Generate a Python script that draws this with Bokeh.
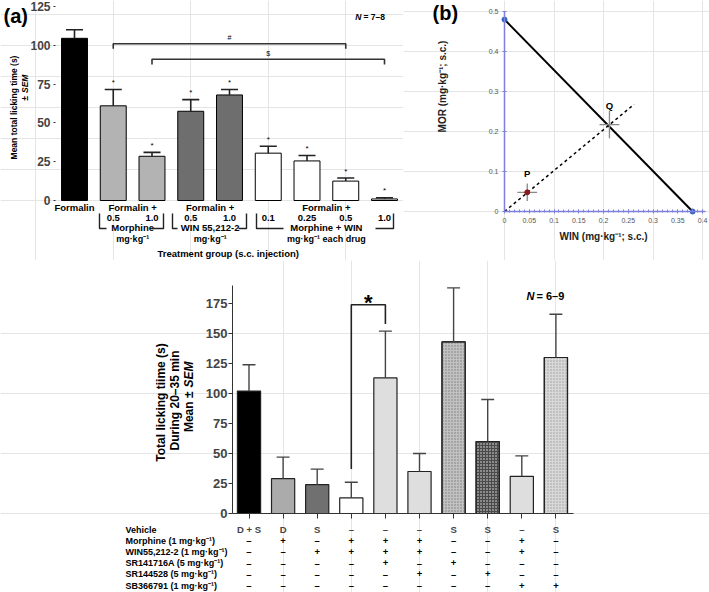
import math
from bokeh.plotting import figure
from bokeh.models import Range1d, FixedTicker, CustomJSTickFormatter, LinearAxis
from bokeh.layouts import column, row
from bokeh.core.properties import value
from bokeh.embed import file_html
from bokeh.resources import INLINE

FONT = "Liberation Sans"

# ---------------- data: panel (a) ----------------
a_doses = ["", "0.5", "1.0", "0.5", "1.0", "0.1", "0.25", "0.5", "1.0"]
a_groups = ["Formalin", "Morphine", "Morphine", "WIN 55,212-2", "WIN 55,212-2",
            "Morphine + WIN", "Morphine + WIN", "Morphine + WIN", "Morphine + WIN"]
a_means = [104.5, 61, 28.5, 57.5, 68, 30.5, 25.5, 12.5, 1.0]
a_sem = [5.5, 10.5, 2.5, 7.5, 3.5, 4.5, 3.5, 2.0, 0.8]
a_sig = ["", "*", "*", "*", "*", "*", "*", "*", "*"]
a_yticks = [0, 25, 50, 75, 100, 125]
a_comp_text = ["#", "$"]
a_comp_from = [2, 3]
a_comp_to = [8, 9]
a_comp_level = [101, 91]
a_units = ["mg·kg⁻¹", "mg·kg⁻¹", "mg·kg⁻¹ each drug"]

# ---------------- data: panel (b) ----------------
b_iso_win = [0.0, 0.38]
b_iso_mor = [0.48, 0.0]
b_pt_names = ["P", "Q"]
b_pt_win = [0.046, 0.212]
b_pt_mor = [0.048, 0.217]
b_pt_win_err = [0.020, 0.020]
b_pt_mor_err = [0.022, 0.034]
b_add_win = [0.0, 0.262]
b_add_mor = [0.0, 0.268]
b_xticks = [0, 0.05, 0.1, 0.15, 0.2, 0.25, 0.3, 0.35, 0.4]
b_xminor = [i / 100 for i in range(0, 41)]
b_yticks = [0, 0.1, 0.2, 0.3, 0.4, 0.5]

# ---------------- data: panel (c) ----------------
c_means = [102, 29, 24, 13, 113, 35, 143, 60, 31, 130]
c_sem = [22, 18, 13, 13, 39, 15, 45, 35, 17, 36]
c_yticks = [0, 25, 50, 75, 100, 125, 150, 175]
c_rows = ["Vehicle", "Morphine (1 mg·kg⁻¹)", "WIN55,212-2 (1 mg·kg⁻¹)",
          "SR141716A (5 mg·kg⁻¹)", "SR144528 (5 mg·kg⁻¹)", "SB366791 (1 mg·kg⁻¹)"]
c_table = [
    ["D + S", "D", "S", "–", "–", "–", "S", "S", "–", "S"],
    ["–", "+", "–", "+", "+", "+", "–", "–", "+", "–"],
    ["–", "–", "+", "+", "+", "+", "–", "–", "+", "–"],
    ["–", "–", "–", "–", "+", "–", "+", "–", "–", "–"],
    ["–", "–", "–", "–", "–", "+", "–", "+", "–", "–"],
    ["–", "–", "–", "–", "–", "–", "–", "–", "+", "+"],
]
c_sig_pair = [4, 5]

# ---------------- styles ----------------
a_fill = ["black", "#b3b3b3", "#b3b3b3", "#6e6e6e", "#6e6e6e", "white", "white", "white", "white"]
c_fill = ["black", "#ababab", "#707070", "white", "#dedede", "#dedede", "#c2c2c2", "#8c8c8c", "#dedede", "#d8d8d8"]
c_hatch = [None, None, None, None, None, None, "dot", "cross", None, "dot"]
c_hatch_col = [None, None, None, None, None, None, "#7a7a7a", "#4a4a4a", None, "#9a9a9a"]
UP = math.pi / 2


def make_fig(w, h, xr, yr):
    p = figure(width=w, height=h, x_range=Range1d(*xr), y_range=Range1d(*yr),
               x_axis_location=None, y_axis_location=None,
               output_backend="svg", toolbar_location=None,
               min_border=0, min_border_left=0, min_border_right=0,
               min_border_top=0, min_border_bottom=0)
    p.background_fill_color = "white"
    p.border_fill_color = "white"
    p.outline_line_color = None
    return p


def add_axis(p, kind, loc):
    a = LinearAxis(fixed_location=loc)
    p.add_layout(a, "left" if kind == "y" else "below")
    return a


def txt(p, x, y, s, size, align="center", style="bold", color="black", baseline="middle", angle=0):
    p.text(x=x if isinstance(x, list) else [x], y=y if isinstance(y, list) else [y],
           text=s if isinstance(s, list) else [s], angle=angle,
           text_font=value(FONT), text_font_size=value(size), text_font_style=style,
           text_align=align, text_baseline=baseline, text_color=color)


# ======================= panel (a) =======================
A_W, A_H = 403, 260
A_X1, A_DX = 74.0, 38.75      # image x of bar 1 centre, px per bar
A_Y0, A_DY = 200.0, 1.552     # image y of value 0, px per unit


def ax(px):
    return 1 + (px - A_X1) / A_DX


def ay(py):
    return (A_Y0 - py) / A_DY


pa = make_fig(A_W, A_H, (ax(0), ax(A_W)), (ay(A_H), ay(0)))

a_x = list(range(1, len(a_means) + 1))
a_up = [m + s for m, s in zip(a_means, a_sem)]
pa.vbar(x=a_x, top=a_means, bottom=0, width=0.67, fill_color=a_fill, line_color="black", line_width=1)
pa.segment(x0=a_x, y0=a_means, x1=a_x, y1=a_up, line_color="#222", line_width=1.6)
pa.segment(x0=[x - 0.22 for x in a_x], y0=a_up, x1=[x + 0.22 for x in a_x], y1=a_up,
           line_color="#222", line_width=1.6)
txt(pa, a_x, [u + 4.5 for u in a_up], a_sig, "8px", style="normal")

ya = add_axis(pa, "y", ax(55))
ya.ticker = FixedTicker(ticks=a_yticks)
ya.bounds = (0, 125)
ya.axis_line_color = None
ya.major_tick_out = 2
ya.major_tick_in = 0
ya.minor_tick_line_color = None
ya.major_tick_line_color = "#333"
ya.major_label_text_font = FONT
ya.major_label_text_font_style = "bold"
ya.major_label_text_font_size = "12px"
ya.major_label_standoff = 3

# y-axis title (rotated text)
txt(pa, ax(13), ay(107), "Mean total licking time (s)", "8.5px", angle=UP)
txt(pa, ax(24), ay(95.5), "±", "8.5px", align="right", angle=UP)
txt(pa, ax(24), ay(92.5), "SEM", "8.5px", align="left", style="bold italic", angle=UP)

# significance brackets above
for t, f, to, lev in zip(a_comp_text, a_comp_from, a_comp_to, a_comp_level):
    pa.line(x=[f, f, to, to], y=[lev - 3.3, lev, lev, lev - 3.3], line_color="#333", line_width=1.6)
    txt(pa, (f + to) / 2, lev + 4, t, "7px", style="normal")

txt(pa, ax(361), ay(16), "N", "8.5px", align="right", style="bold italic")
txt(pa, ax(363), ay(16), "= 7–8", "8.5px", align="left")
txt(pa, ax(3), ay(15), "(a)", "20px", align="left")

# category labels below
group_names, group_centres = [], []
for g in a_groups:
    if g not in group_names:
        group_names.append(g)
for g in group_names:
    xs = [x for x, gg in zip(a_x, a_groups) if gg == g]
    group_centres.append(sum(xs) / len(xs))
txt(pa, group_centres[0], ay(207), group_names[0], "9.5px")
txt(pa, group_centres[1:], [ay(207)] * 3, ["Formalin +"] * 3, "9.5px")
txt(pa, a_x[1:], [ay(217)] * 8, a_doses[1:], "9.5px")
txt(pa, group_centres[1:], [ay(227)] * 3, group_names[1:], "9.5px")
txt(pa, group_centres[1:], [ay(238)] * 3, a_units, "9px")
txt(pa, ax(229), ay(253), "Treatment  group (s.c. injection)", "9.5px")

# group brackets (image px: left, right, gap-left, gap-right)
brk = [(99, 163, 106, 150), (172, 246, 177, 238), (256, 393, 283, 375)]
for l, r, gl, gr in brk:
    pa.line(x=[ax(l), ax(l), ax(gl)], y=[ay(213), ay(228), ay(228)], line_color="#222", line_width=1.4)
    pa.line(x=[ax(gr), ax(r), ax(r)], y=[ay(228), ay(228), ay(213)], line_color="#222", line_width=1.4)

# ======================= panel (b) =======================
B_W, B_H = 306, 260
B_LEFT = 403                   # image x of figure's left edge
B_X0, B_DX = 504.0, 495.0      # image x of 0, px per unit
B_Y0, B_DY = 211.0, 400.0      # image y of 0, px per unit


def bx(px):
    return (px - B_X0) / B_DX


def by(py):
    return (B_Y0 - py) / B_DY


pb = make_fig(B_W, B_H, (bx(B_LEFT), bx(B_LEFT + B_W)), (by(B_H), by(0)))
AXC = "#7f7fdc"
xb = add_axis(pb, "x", 0)
yb = add_axis(pb, "y", 0)
xb.bounds = (0, bx(705))
yb.bounds = (0, 0.5)
for axx in (xb, yb):
    axx.axis_line_color = AXC
    axx.axis_line_width = 1.5
    axx.major_tick_line_color = AXC
    axx.minor_tick_line_color = AXC
    axx.major_tick_in = 2
    axx.major_tick_out = 2
    axx.minor_tick_in = 2
    axx.minor_tick_out = 1
    axx.major_label_text_font = FONT
    axx.major_label_text_font_size = "7px"
    axx.major_label_text_color = "#555"
    axx.formatter = CustomJSTickFormatter(code="return (Math.round(tick*100)/100).toString()")
xb.ticker = FixedTicker(ticks=b_xticks, minor_ticks=b_xminor)
yb.ticker = FixedTicker(ticks=b_yticks, minor_ticks=[])
xb.major_label_standoff = 4
yb.major_label_standoff = 4
xb.axis_label = "WIN  (mg·kg⁻¹; s.c.)"
xb.axis_label_text_font = FONT
xb.axis_label_text_font_style = "bold"
xb.axis_label_text_font_size = "10px"
xb.axis_label_text_color = "#222"
xb.axis_label_standoff = 5
txt(pb, bx(442), by(86), "MOR (mg·kg⁻¹; s.c.)", "10px", angle=UP, color="#222")

pb.line(b_iso_win, b_iso_mor, line_color="black", line_width=2)
pb.scatter(b_iso_win, b_iso_mor, size=5, color="#2f5fbf")
pb.line(b_add_win, b_add_mor, line_color="black", line_width=1.5, line_dash="3 3")
pb.segment(x0=[w - e for w, e in zip(b_pt_win, b_pt_win_err)], y0=b_pt_mor,
           x1=[w + e for w, e in zip(b_pt_win, b_pt_win_err)], y1=b_pt_mor,
           line_color="#8a8a8a", line_width=1.3)
pb.segment(x0=b_pt_win, y0=[m - e for m, e in zip(b_pt_mor, b_pt_mor_err)],
           x1=b_pt_win, y1=[m + e for m, e in zip(b_pt_mor, b_pt_mor_err)],
           line_color="#8a8a8a", line_width=1.3)
pb.scatter([b_pt_win[0]], [b_pt_mor[0]], size=5, color="#8b1a1a")
txt(pb, b_pt_win, [m + 0.047 for m in b_pt_mor], b_pt_names, "9.5px")
txt(pb, bx(432), by(12), "(b)", "20px", align="left")

# ======================= panel (c) =======================
C_W, C_H = 709, 332
C_TOP = 260                    # image y of figure's top edge
C_X1, C_DX = 248.5, 34.1       # image x of bar 1 centre, px per bar
C_Y0, C_DY = 513.0, 1.2        # image y of value 0, px per unit


def cx(px):
    return 1 + (px - C_X1) / C_DX


def cy(py):
    return (C_Y0 - py) / C_DY


pc = make_fig(C_W, C_H, (cx(0), cx(C_W)), (cy(C_TOP + C_H), cy(C_TOP)))
c_x = list(range(1, len(c_means) + 1))
c_up = [m + s for m, s in zip(c_means, c_sem)]
pc.vbar(x=c_x, top=c_means, bottom=0, width=0.68, fill_color=c_fill, line_color="#222", line_width=1.2)
for x, m, h, hc in zip(c_x, c_means, c_hatch, c_hatch_col):
    if h:
        pc.vbar(x=[x], top=[m], bottom=0, width=0.68, fill_alpha=0, line_color="#222", line_width=1.2,
                hatch_pattern=h, hatch_color=hc, hatch_scale=3, hatch_weight=1)
pc.segment(x0=c_x, y0=c_means, x1=c_x, y1=c_up, line_color="#444", line_width=1.4)
pc.segment(x0=[x - 0.19 for x in c_x], y0=c_up, x1=[x + 0.19 for x in c_x], y1=c_up,
           line_color="#444", line_width=1.4)

y_axis_x = cx(232)
yc = add_axis(pc, "y", y_axis_x)
yc.bounds = (0, 190)
yc.ticker = FixedTicker(ticks=c_yticks)
yc.axis_line_color = "#333"
yc.major_tick_line_color = "#333"
yc.minor_tick_line_color = None
yc.major_tick_out = 4
yc.major_tick_in = 0
yc.major_label_text_font = FONT
yc.major_label_text_font_style = "bold"
yc.major_label_text_font_size = "13px"
yc.major_label_standoff = 1

# y-axis title (rotated text, three lines)
txt(pc, cx(160), cy(402), "Total licking tiime (s)", "12px", angle=UP)
txt(pc, cx(174), cy(400), "During 20–35 min", "12px", angle=UP)
txt(pc, cx(188), cy(391), "Mean ±", "12px", align="right", angle=UP)
txt(pc, cx(188), cy(387), "SEM", "12px", align="left", style="bold italic", angle=UP)

xc = add_axis(pc, "x", 0)
xc.bounds = (y_axis_x, cx(573))
xc.ticker = FixedTicker(ticks=c_x, minor_ticks=[])
xc.axis_line_color = "#333"
xc.major_tick_line_color = "#333"
xc.minor_tick_line_color = None
xc.major_tick_out = 5
xc.major_tick_in = 0
xc.major_label_text_font = FONT
xc.major_label_text_font_style = "bold"
xc.major_label_text_font_size = "9.5px"
xc.major_label_standoff = 5
# first table row (Vehicle) is written as the category tick labels
xc.formatter = CustomJSTickFormatter(args=dict(labels=c_table[0]),
                                     code="return labels[Math.round(tick) - 1]")

# significance bracket
i0, i1 = c_sig_pair
pc.line(x=[i0, i0, i1, i1], y=[c_up[i0 - 1] + 11, 174, 174, c_up[i1 - 1] + 6], line_color="#222", line_width=1.6)
txt(pc, (i0 + i1) / 2, cy(302), "*", "22px")
txt(pc, cx(534), cy(295), "N", "11px", align="right", style="bold italic")
txt(pc, cx(536), cy(295), "= 6–9", "11px", align="left")

# treatment table
ROW_Y0, ROW_DY = 529.0, 11.2
for r, (lab, cells) in enumerate(zip(c_rows, c_table)):
    yy = cy(ROW_Y0 + ROW_DY * r)
    txt(pc, cx(125), yy, lab, "9px", align="left")
    if r > 0:
        txt(pc, c_x, [yy] * len(c_x), cells, "9.5px")

layout = column(row(pa, pb), pc)
open("out.html", "w").write(file_html(layout, INLINE))
